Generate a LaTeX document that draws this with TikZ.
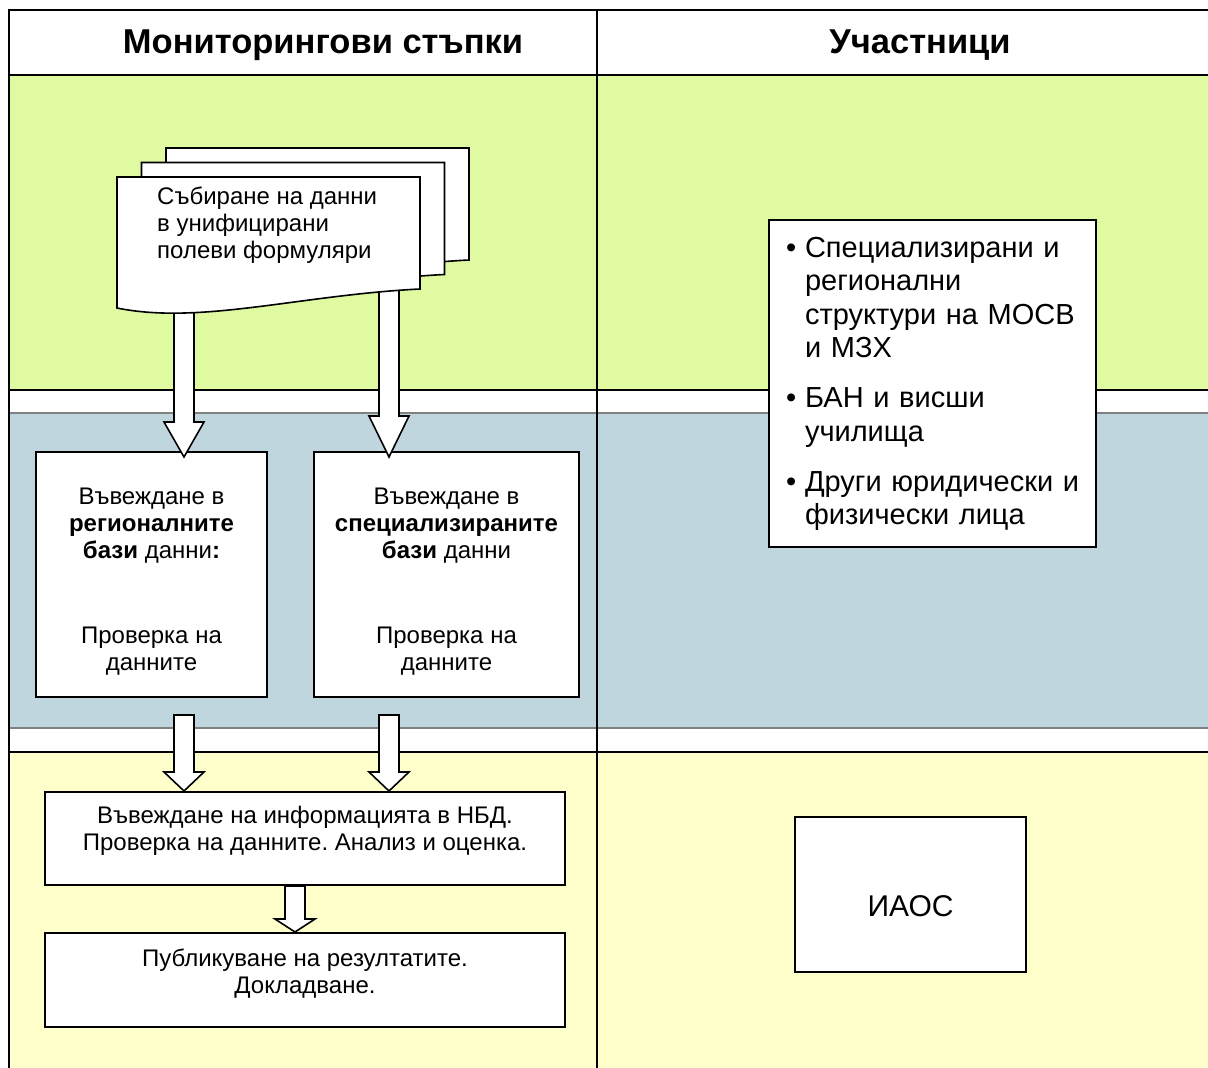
\documentclass[tikz,border=0pt]{standalone}
\usepackage{fontspec}
\setmainfont{Liberation Sans}
\usepackage{tikz}
\usetikzlibrary{calc}
\frenchspacing

\definecolor{bandgreen}{RGB}{223,250,160}
\definecolor{bandblue}{RGB}{192,214,222}
\definecolor{bandyellow}{RGB}{255,255,204}

\newcommand{\blockarrow}[3]{%
	\draw[blockarr] ($(#1)+(-10,0)$) -- ($(#1)+(10,0)$) -- ($(#1|-#2)+(10,-#3)$) -- ($(#1|-#2)+(20,-#3)$) -- (#1|-#2) -- ($(#1|-#2)+(-20,-#3)$) -- ($(#1|-#2)+(-10,-#3)$) -- cycle;}
\newcommand{\itm}{\hspace*{3.5bp}\makebox[19bp][l]{•}}
\newcommand{\ind}{\hspace*{22.5bp}}

\begin{document}
\begin{tikzpicture}[x=1bp,y=-1bp]
	\tikzstyle{every node}=[font=\fontsize{24bp}{27bp}\selectfont]
	\tikzstyle{box}=[draw, line width=2bp, fill=white, inner sep=0pt, align=center]
	\tikzstyle{blockarr}=[line width=1.6bp, draw=black, fill=white, line join=miter]
	\tikzstyle{frame}=[line width=2.5bp]
	\tikzstyle{head}=[font=\bfseries\fontsize{34.5bp}{40bp}\selectfont]
	
	\useasboundingbox (0,0) rectangle (1208,1068);
	
	\fill[bandgreen] (9,75) rectangle (1208,390);
	\fill[bandblue] (9,413) rectangle (1208,728);
	\fill[bandyellow] (9,752) rectangle (1208,1068);
	\draw[line width=1.5bp] (9,390) -- (1208,390) (9,752) -- (1208,752);
	\draw[line width=1.2bp, color=gray] (9,413) -- (1208,413) (9,728) -- (1208,728);
	\draw[frame] (9,1068) -- (9,10) -- (1208,10) (9,75) -- (1208,75) (597,10) -- (597,1068);
	
	\node[head] (hsteps) at (323,45) {Мониторингови стъпки};
	\node[head] (hpart) at (920,45) {Участници};
	
	\node[box, minimum width=231bp, text height=218bp, text depth=27bp] (reg) at (151.5,574.5) {Въвеждане в\\\textbf{регионалните}\\\textbf{бази} данни\textbf{:}\\[58bp]Проверка на\\данните};
	\node[box, minimum width=265bp, text height=218bp, text depth=27bp] (spec) at (446.5,574.5) {Въвеждане в\\\textbf{специализираните}\\\textbf{бази} данни\\[58bp]Проверка на\\данните};
	\node[box, minimum width=520bp, text height=58bp, text depth=35bp] (nbd) at (305,838.5) {Въвеждане на информацията в НБД.\\Проверка на данните. Анализ и оценка.};
	\node[box, minimum width=520bp, text height=60bp, text depth=34bp] (pub) at (305,980) {Публикуване на резултатите.\\Докладване.};
	
	\node[box, minimum width=327bp, text width=300bp, align=left, text height=37bp, text depth=290bp, font=\fontsize{29bp}{33.5bp}\selectfont] (part) at (932.5,383.5) {\itm Специализирани и\\\ind регионални\\\ind структури на МОСВ\\\ind и МЗХ\\[16.5bp]\itm БАН и висши\\\ind училища\\[16.5bp]\itm Други юридически и\\\ind физически лица};
	\node[box, minimum width=231bp, text height=99bp, text depth=56bp, font=\fontsize{30bp}{34bp}\selectfont] (iaos) at (910.5,894.5) {ИАОС};
	
	\coordinate (docL) at (184,300);
	\coordinate (docR) at (389,280);
	\coordinate (regin) at ($(reg.north)+(0,6)$);
	\coordinate (specin) at ($(spec.north)+(0,6)$);
	\coordinate (regout) at ($(reg.south)+(32.5,17)$);
	\coordinate (specout) at ($(spec.south)+(-57.5,17)$);
	\coordinate (nbdout) at ($(nbd.south)+(-10,0)$);
	
	\blockarrow{docL}{regin}{35}
	\blockarrow{docR}{specin}{41}
	\blockarrow{regout}{nbd.north}{19}
	\blockarrow{specout}{nbd.north}{19}
	\blockarrow{nbdout}{pub.north}{13}
	
	\foreach \dx/\dy in {49/-29, 24.5/-14.5, 0/0}{
		\begin{scope}[shift={(\dx,\dy)}]
			\draw[line width=1.6bp, fill=white] (117,177) -- (420,177) -- (420,289) .. controls (300,295) and (200,325) .. (117,308) -- cycle;
		\end{scope}
	}
	\node[anchor=north west, inner sep=0pt, align=left, font=\fontsize{24bp}{27bp}\selectfont] (doc) at (157,187) {Събиране на данни\\в унифицирани\\полеви формуляри};
	
\end{tikzpicture}
\end{document}
